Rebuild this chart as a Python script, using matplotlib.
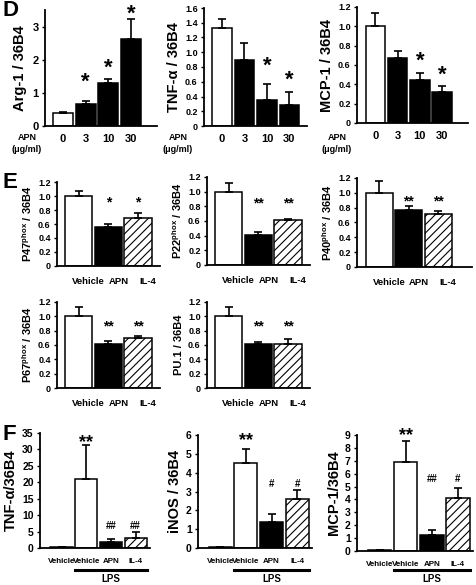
import numpy as np
import matplotlib
matplotlib.use('Agg')
import matplotlib.pyplot as plt
import matplotlib.transforms as mtransforms

plt.rcParams['font.family'] = 'Liberation Sans'
plt.rcParams['font.weight'] = 'bold'
plt.rcParams['axes.labelweight'] = 'bold'
plt.rcParams['mathtext.fontset'] = 'custom'
plt.rcParams['mathtext.rm'] = 'Liberation Sans:bold'
plt.rcParams['mathtext.bf'] = 'Liberation Sans:bold'
plt.rcParams['mathtext.it'] = 'Liberation Sans:bold:italic'
plt.rcParams['hatch.linewidth'] = 0.8

#Panel D data (APN dose response):
doses = ['0', '3', '10', '30']
arg1 = [0.38, 0.67, 1.30, 2.62]
arg1_err = [0.03, 0.08, 0.12, 0.60]
arg1_sig = ['', '*', '*', '*']
arg1_sig_y = [0, 1.55, 1.96, 3.6]

tnf_d = [1.33, 0.89, 0.35, 0.28]
tnf_d_err = [0.12, 0.23, 0.22, 0.18]
tnf_d_sig = ['', '', '*', '*']
tnf_d_sig_y = [0, 0, 0.91, 0.72]

mcp_d = [1.00, 0.67, 0.45, 0.32]
mcp_d_err = [0.14, 0.07, 0.07, 0.06]
mcp_d_sig = ['', '', '*', '*']
mcp_d_sig_y = [0, 0, 0.72, 0.57]

#Panel E data:
groups_e = ['Vehicle', 'APN', 'IL-4']
p47 = [1.0, 0.56, 0.68]
p47_err = [0.07, 0.04, 0.08]
p22 = [1.0, 0.41, 0.61]
p22_err = [0.12, 0.04, 0.02]
p40 = [1.0, 0.77, 0.72]
p40_err = [0.16, 0.05, 0.04]
p67 = [1.0, 0.61, 0.70]
p67_err = [0.13, 0.05, 0.03]
pu1 = [1.0, 0.61, 0.62]
pu1_err = [0.13, 0.03, 0.07]
sig_one = ['', '*', '*']
sig_two = ['', '**', '**']

#Panel F data (LPS):
groups_f = ['Vehicle', 'Vehicle', 'APN', 'IL-4']
tnf_f = [0.2, 21.0, 1.8, 3.0]
tnf_f_err = [0.0, 10.2, 0.8, 2.0]
tnf_f_sig = ['', '**', '##', '##']
tnf_f_sig_y = [0, 34.0, 6.7, 6.7]

inos = [0.03, 4.5, 1.4, 2.62]
inos_err = [0.0, 0.75, 0.4, 0.46]
inos_sig = ['', '**', '#', '#']
inos_sig_y = [0, 6.0, 3.45, 3.45]

mcp_f = [0.05, 6.9, 1.25, 4.15]
mcp_f_err = [0.0, 1.6, 0.35, 0.75]
mcp_f_sig = ['', '**', '##', '#']
mcp_f_sig_y = [0, 9.45, 5.65, 5.65]


W, H = 477, 585
fig = plt.figure(figsize=(W/100, H/100), dpi=100)


def new_ax(l, t, r, b):
    ax = fig.add_axes([l/W, 1 - b/H, (r - l)/W, (b - t)/H])
    for s in ['top', 'right']:
        ax.spines[s].set_visible(False)
    for s in ['left', 'bottom']:
        ax.spines[s].set_linewidth(1.3)
    ax.tick_params(axis='y', direction='out', length=2.5, width=1, pad=2)
    ax.tick_params(axis='x', length=0)
    return ax


def draw_bars(ax, vals, errs, styles, width):
    x = np.arange(len(vals))
    for i, st in enumerate(styles):
        if st == 'white':
            ax.bar(x[i], vals[i], width, color='white', edgecolor='black', linewidth=1.1, zorder=2)
        elif st == 'black':
            ax.bar(x[i], vals[i], width, color='black', edgecolor='black', linewidth=1.1, zorder=2)
        else:
            ax.bar(x[i], vals[i], width, color='white', edgecolor='black', linewidth=1.1, hatch='////', zorder=2)
    ax.errorbar(x, vals, yerr=[np.zeros(len(errs)), errs], fmt='none', ecolor='black',
                elinewidth=1.2, capsize=3.2, capthick=1.2, zorder=3)
    return x


def add_sig(ax, marks, ys, fs):
    for i, m in enumerate(marks):
        if m == '':
            continue
        f = 0.58 if '*' in m else 0.36
        ax.annotate(m, (i, ys[i]), xytext=(0, -f*fs), textcoords='offset points',
                    ha='center', va='baseline', fontsize=fs, fontweight='bold', annotation_clip=False)


#Panel D:
d_styles = ['white', 'black', 'black', 'black']

ax = new_ax(45, 10, 157, 126)
x = draw_bars(ax, arg1, arg1_err, d_styles, 0.88)
ax.set_xlim(-0.79, 4.14)
ax.set_ylim(0, 3.5)
ax.set_yticks([0, 1, 2, 3])
ax.set_ylabel('Arg-1 / 36B4', fontsize=10.5, labelpad=4)
add_sig(ax, arg1_sig, arg1_sig_y, 16)
ax.set_xticks(x)
ax.set_xticklabels(doses, fontsize=8)
ax.tick_params(axis='x', pad=6)
ax.tick_params(axis='y', labelsize=8)

ax = new_ax(204, 8, 307, 126)
x = draw_bars(ax, tnf_d, tnf_d_err, d_styles, 0.88)
ax.set_xlim(-0.8, 3.78)
ax.set_ylim(0, 1.6)
ax.set_yticks(np.arange(0, 1.61, 0.2))
ax.set_yticklabels(['0', '0.2', '0.4', '0.6', '0.8', '1.0', '1.2', '1.4', '1.6'])
ax.set_ylabel('TNF-α / 36B4', fontsize=10.5, labelpad=3)
add_sig(ax, tnf_d_sig, tnf_d_sig_y, 16)
ax.set_xticks(x)
ax.set_xticklabels(doses, fontsize=8)
ax.tick_params(axis='x', pad=6)
ax.tick_params(axis='y', labelsize=6.5)

ax = new_ax(357, 7, 468, 123)
x = draw_bars(ax, mcp_d, mcp_d_err, d_styles, 0.88)
ax.set_xlim(-0.83, 4.17)
ax.set_ylim(0, 1.2)
ax.set_yticks(np.arange(0, 1.21, 0.2))
ax.set_yticklabels(['0', '0.2', '0.4', '0.6', '0.8', '1.0', '1.2'])
ax.set_ylabel('MCP-1 / 36B4', fontsize=10.5, labelpad=3)
add_sig(ax, mcp_d_sig, mcp_d_sig_y, 16)
ax.set_xticks(x)
ax.set_xticklabels(doses, fontsize=8)
ax.tick_params(axis='x', pad=6)
ax.tick_params(axis='y', labelsize=6.5)

#APN unit labels
for xx in [27, 178, 337]:
    fig.text(xx/W, 1 - 137/H, 'APN', fontsize=6.5, ha='center', va='center')
    fig.text(xx/W, 1 - 149/H, '(μg/ml)', fontsize=6.5, ha='center', va='center')


#Panel E:
e_styles = ['white', 'black', 'hatch']
e_ticks = np.arange(0, 1.21, 0.2)
e_ticklabels = ['0', '0.2', '0.4', '0.6', '0.8', '1.0', '1.2']
e_panels = [
    (57, 182, 160, 266, p47, p47_err, 'P47$^{\\mathrm{phox}}$ / 36B4', sig_one, 0.97, 10, (-0.73, 2.74)),
    (207, 177, 310, 265, p22, p22_err, 'P22$^{\\mathrm{phox}}$ / 36B4', sig_two, 0.90, 10, (-0.73, 2.74)),
    (357, 178, 472, 267, p40, p40_err, 'P40$^{\\mathrm{phox}}$ / 36B4', sig_two, 0.94, 10, (-0.75, 3.15)),
    (57, 302, 160, 388, p67, p67_err, 'P67$^{\\mathrm{phox}}$ / 36B4', sig_two, 0.92, 10, (-0.73, 2.74)),
    (207, 302, 310, 388, pu1, pu1_err, 'PU.1 / 36B4', sig_two, 0.92, 10, (-0.73, 2.74)),
]
for l, t, r, b, vals, errs, lab, sig, sy, fs, xl in e_panels:
    ax = new_ax(l, t, r, b)
    x = draw_bars(ax, vals, errs, e_styles, 0.92)
    ax.set_xlim(*xl)
    ax.set_ylim(0, 1.2)
    ax.set_yticks(e_ticks)
    ax.set_yticklabels(e_ticklabels)
    ax.tick_params(axis='y', labelsize=6.5)
    ax.set_ylabel(lab, fontsize=8, labelpad=3)
    add_sig(ax, sig, [sy]*3, fs)
    ax.set_xticks(x)
    ax.set_xticklabels(groups_e, fontsize=6.8)
    ax.tick_params(axis='x', pad=8)
    shift = mtransforms.ScaledTranslation(10/100, 0, fig.dpi_scale_trans)
    for tl in ax.get_xticklabels():
        tl.set_transform(tl.get_transform() + shift)


#Panel F:
f_styles = ['white', 'white', 'black', 'hatch']
f_panels = [
    (40, 433, 150, 548, tnf_f, tnf_f_err, 'TNF-α/36B4', tnf_f_sig, tnf_f_sig_y, 35, 5),
    (198, 435, 312, 548, inos, inos_err, 'iNOS / 36B4', inos_sig, inos_sig_y, 6, 1),
    (357, 435, 473, 551, mcp_f, mcp_f_err, 'MCP-1/36B4', mcp_f_sig, mcp_f_sig_y, 9, 1),
]
for l, t, r, b, vals, errs, lab, sig, sy, top, step in f_panels:
    ax = new_ax(l, t, r, b)
    x = draw_bars(ax, vals, errs, f_styles, 0.9)
    ax.set_xlim(-0.87, 3.58)
    ax.set_ylim(0, top)
    ax.set_yticks(np.arange(0, top + 0.1, step))
    ax.tick_params(axis='y', labelsize=7.5)
    ax.set_ylabel(lab, fontsize=10.5, labelpad=3)
    for i, m in enumerate(sig):
        if m == '':
            continue
        fs = 13 if '*' in m else 7
        f = 0.58 if '*' in m else 0.36
        ax.annotate(m, (i, sy[i]), xytext=(0, -f*fs), textcoords='offset points',
                    ha='center', va='baseline', fontsize=fs, fontweight='bold', annotation_clip=False)
    ax.set_xticks(x)
    ax.set_xticklabels(groups_f, fontsize=5.8)
    ax.tick_params(axis='x', pad=7)
    # LPS bracket line under the stimulated bars
    trans = mtransforms.blended_transform_factory(ax.transData, fig.transFigure)
    ax.plot([0.55, 3.45], [1 - 570/H, 1 - 570/H], color='black', linewidth=2.2, transform=trans, clip_on=False)
    ax.text(2.0, 1 - 579/H, 'LPS', fontsize=7, ha='center', va='center', transform=trans)


#panel letters
fig.text(2/W, 1 - 10/H, 'D', fontsize=16, fontweight='bold', va='center')
fig.text(2/W, 1 - 182/H, 'E', fontsize=16, fontweight='bold', va='center')
fig.text(2/W, 1 - 435/H, 'F', fontsize=16, fontweight='bold', va='center')

plt.savefig('out.png', dpi=100)
